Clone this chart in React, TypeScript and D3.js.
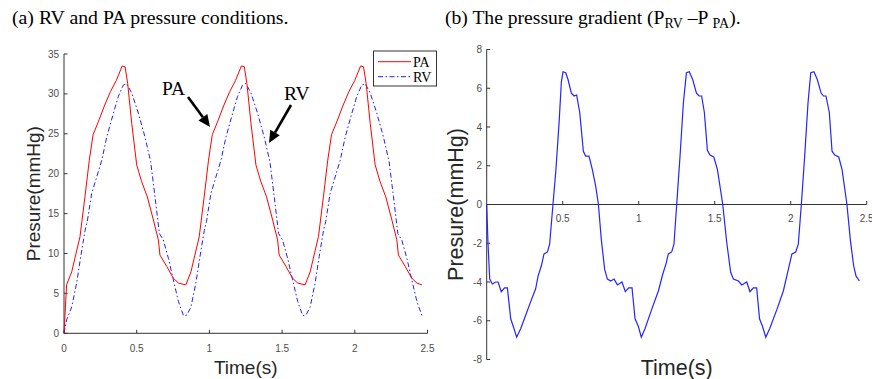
import React from "react";
import * as d3 from "d3";

// (a) pulmonary artery and right ventricle pressure, [time s, mmHg]
const paSeries: [number, number][] = [
  [0, 0], [0.018, 6.1], [0.053, 7.7], [0.08, 9.8], [0.11, 12.1], [0.144, 17.1], [0.174, 21.7],
  [0.2, 24.9], [0.236, 26.5], [0.28, 28.6], [0.32, 30.3], [0.36, 31.7], [0.4, 33.5], [0.42, 33.4],
  [0.438, 31.3], [0.466, 26.3], [0.5, 21.1], [0.534, 19.0], [0.573, 17.1], [0.615, 14.2],
  [0.649, 11.7], [0.66, 9.8], [0.706, 8.4], [0.752, 6.9], [0.787, 6.3], [0.838, 6.06],
  [0.873, 7.7], [0.9, 9.8], [0.93, 12.1], [0.964, 17.1], [0.994, 21.7], [1.02, 24.9],
  [1.056, 26.5], [1.1, 28.6], [1.14, 30.3], [1.18, 31.7], [1.22, 33.5], [1.24, 33.4],
  [1.258, 31.3], [1.286, 26.3], [1.32, 21.1], [1.354, 19.0], [1.393, 17.1], [1.435, 14.2],
  [1.469, 11.7], [1.48, 9.8], [1.526, 8.4], [1.572, 6.9], [1.607, 6.3], [1.658, 6.06],
  [1.693, 7.7], [1.72, 9.8], [1.75, 12.1], [1.784, 17.1], [1.814, 21.7], [1.84, 24.9],
  [1.876, 26.5], [1.92, 28.6], [1.96, 30.3], [2.0, 31.7], [2.04, 33.5], [2.06, 33.4],
  [2.078, 31.3], [2.106, 26.3], [2.14, 21.1], [2.174, 19.0], [2.213, 17.1], [2.255, 14.2],
  [2.289, 11.7], [2.3, 9.8], [2.346, 8.4], [2.392, 6.9], [2.427, 6.3], [2.462, 6.06],
];

const rvSeries: [number, number][] = [
  [0, 0], [0.018, 1.7], [0.053, 3.3], [0.087, 6.3], [0.115, 9.6], [0.145, 12.9], [0.16, 14.0],
  [0.19, 17.5], [0.225, 19.6], [0.26, 21.7], [0.294, 24.6], [0.34, 27.6], [0.374, 29.7],
  [0.408, 31.1], [0.431, 31.3], [0.466, 30.1], [0.511, 27.6], [0.557, 24.6], [0.596, 21.5],
  [0.626, 17.1], [0.656, 12.5], [0.683, 11.7], [0.718, 9.4], [0.752, 6.7], [0.787, 4.0],
  [0.822, 2.2], [0.845, 2.3], [0.873, 3.3], [0.907, 6.3], [0.935, 9.6], [0.965, 12.9],
  [0.98, 14.0], [1.01, 17.5], [1.045, 19.6], [1.08, 21.7], [1.114, 24.6], [1.16, 27.6],
  [1.194, 29.7], [1.228, 31.1], [1.251, 31.3], [1.286, 30.1], [1.331, 27.6], [1.377, 24.6],
  [1.416, 21.5], [1.446, 17.1], [1.476, 12.5], [1.503, 11.7], [1.538, 9.4], [1.572, 6.7],
  [1.607, 4.0], [1.642, 2.2], [1.665, 2.3], [1.693, 3.3], [1.727, 6.3], [1.755, 9.6],
  [1.785, 12.9], [1.8, 14.0], [1.83, 17.5], [1.865, 19.6], [1.9, 21.7], [1.934, 24.6],
  [1.98, 27.6], [2.014, 29.7], [2.048, 31.1], [2.071, 31.3], [2.106, 30.1], [2.151, 27.6],
  [2.197, 24.6], [2.236, 21.5], [2.266, 17.1], [2.296, 12.5], [2.323, 11.7], [2.358, 9.4],
  [2.392, 6.7], [2.427, 4.0], [2.462, 2.2],
];

// (b) pressure gradient P_RV - P_PA, [time s, mmHg]
const gradientSeries: [number, number][] = [
  [0, 0], [0.009, -2.1], [0.02, -3.85], [0.037, -4.1], [0.059, -4.0], [0.075, -4.0],
  [0.096, -4.5], [0.118, -4.3], [0.136, -4.3], [0.158, -5.9], [0.175, -6.3], [0.197, -6.85],
  [0.224, -6.4], [0.257, -5.7], [0.29, -5.0], [0.322, -4.35], [0.338, -3.7], [0.36, -3.15],
  [0.377, -2.55], [0.4, -2.45], [0.414, -2.05], [0.428, -0.75], [0.436, 0], [0.454, 1.65],
  [0.476, 4.2], [0.491, 6.3], [0.502, 6.85], [0.52, 6.8], [0.535, 6.45], [0.557, 5.75],
  [0.575, 5.6], [0.592, 5.65], [0.612, 4.75], [0.636, 2.75], [0.651, 2.5], [0.673, 2.5],
  [0.695, 1.8], [0.717, 0.95], [0.735, 0], [0.754, -1.8], [0.776, -3.35], [0.794, -3.85],
  [0.816, -3.95], [0.838, -3.85], [0.86, -4.15], [0.89, -4.0], [0.912, -4.5], [0.934, -4.3],
  [0.956, -4.3], [0.976, -5.9], [0.998, -6.3], [1.017, -6.85], [1.042, -6.4], [1.086, -5.4],
  [1.13, -4.45], [1.158, -3.6], [1.18, -3.05], [1.195, -2.55], [1.217, -2.45], [1.232, -2.05],
  [1.25, 0], [1.272, 2.5], [1.294, 5.25], [1.314, 6.8], [1.333, 6.85], [1.355, 6.45],
  [1.38, 5.75], [1.397, 5.6], [1.414, 5.6], [1.432, 4.75], [1.452, 2.8], [1.469, 2.55],
  [1.494, 2.45], [1.518, 1.8], [1.553, 0], [1.579, -1.95], [1.605, -3.5], [1.623, -3.85],
  [1.656, -3.95], [1.678, -4.15], [1.711, -4.0], [1.732, -4.5], [1.754, -4.3], [1.776, -4.3],
  [1.795, -5.9], [1.815, -6.3], [1.836, -6.85], [1.862, -6.4], [1.91, -5.4], [1.952, -4.45],
  [1.98, -3.5], [2.008, -2.55], [2.033, -2.45], [2.05, -2.05], [2.07, 0], [2.092, 2.5],
  [2.114, 5.25], [2.132, 6.8], [2.153, 6.85], [2.175, 6.45], [2.2, 5.75], [2.215, 5.6],
  [2.232, 5.6], [2.254, 4.75], [2.272, 2.75], [2.29, 2.55], [2.316, 2.45], [2.338, 1.8],
  [2.37, 0], [2.392, -1.8], [2.414, -3.15], [2.43, -3.7], [2.452, -3.95],
];

const timeTicks = [0, 0.5, 1, 1.5, 2, 2.5];
const pressureTicks = [0, 5, 10, 15, 20, 25, 30, 35];
const gradientTicks = [-8, -6, -4, -2, 0, 2, 4, 6, 8];

const SANS = "'Liberation Sans', Arial, sans-serif";
const SERIF = "'Liberation Serif', 'Times New Roman', serif";
const AXIS = "#333333";
const TICK_TEXT = "#4d4d4d";
const TICK_LEN = 3.5;

const Arrow = ({ x1, y1, x2, y2 }: { x1: number; y1: number; x2: number; y2: number }) => {
  const ang = Math.atan2(y2 - y1, x2 - x1);
  const hl = 12;
  const hw = 5.5;
  const bx = x2 - hl * Math.cos(ang);
  const by = y2 - hl * Math.sin(ang);
  const px = -Math.sin(ang) * hw;
  const py = Math.cos(ang) * hw;
  return (
    <g>
      <line x1={x1} y1={y1} x2={bx} y2={by} stroke="#000" strokeWidth={2.6} />
      <path d={`M${x2},${y2}L${bx + px},${by + py}L${bx - px},${by - py}Z`} fill="#000" />
    </g>
  );
};

const App: React.FC = () => {
  // left panel scales
  const xA = d3.scaleLinear().domain([0, 2.5]).range([64, 427.5]);
  const yA = d3.scaleLinear().domain([0, 35]).range([333.3, 54]);
  // right panel scales
  const xB = d3.scaleLinear().domain([0, 2.5]).range([486.7, 866.7]);
  const yB = d3.scaleLinear().domain([-8, 8]).range([359.5, 49.5]);

  const lineA = d3.line<[number, number]>().x((d) => xA(d[0])).y((d) => yA(d[1]));
  const lineB = d3.line<[number, number]>().x((d) => xB(d[0])).y((d) => yB(d[1]));

  return (
    <svg
      width={872}
      height={379}
      style={{ position: "absolute", left: 0, top: 0, background: "#fff" }}
    >
      {/* titles */}
      <text x={12} y={24} fontFamily={SERIF} fontSize={19.8} fill="#000">
        (a) RV and PA pressure conditions.
      </text>
      <text x={445} y={24} fontFamily={SERIF} fontSize={19.6} fill="#000">
        (b) The pressure gradient (P
        <tspan fontSize={14} dy={4}>RV</tspan>
        <tspan dy={-4}> –P </tspan>
        <tspan fontSize={14} dy={4}>PA</tspan>
        <tspan dy={-4}>).</tspan>
      </text>

      {/* ---- panel (a) ---- */}
      <g>
        <line x1={xA(0)} x2={xA(2.5)} y1={yA(0)} y2={yA(0)} stroke={AXIS} />
        <line x1={xA(0)} x2={xA(0)} y1={yA(0)} y2={yA(35)} stroke={AXIS} />
        {timeTicks.map((t) => (
          <g key={`ax${t}`}>
            <line x1={xA(t)} x2={xA(t)} y1={yA(0)} y2={yA(0) - TICK_LEN} stroke={AXIS} />
            <text x={xA(t)} y={351.5} textAnchor="middle" fontFamily={SANS} fontSize={10} fill={TICK_TEXT}>
              {t}
            </text>
          </g>
        ))}
        {pressureTicks.map((v) => (
          <g key={`ay${v}`}>
            <line x1={xA(0)} x2={xA(0) + TICK_LEN} y1={yA(v)} y2={yA(v)} stroke={AXIS} />
            <text x={59} y={yA(v) + 3.5} textAnchor="end" fontFamily={SANS} fontSize={10} fill={TICK_TEXT}>
              {v}
            </text>
          </g>
        ))}
        <path d={lineA(rvSeries) ?? ""} fill="none" stroke="#1f1fff" strokeWidth={1} strokeDasharray="5,2.5,1.5,2.5" />
        <path d={lineA(paSeries) ?? ""} fill="none" stroke="#ff0000" strokeWidth={1} />

        <text
          transform={`translate(40,${(yA(0) + yA(35)) / 2}) rotate(-90)`}
          textAnchor="middle"
          fontFamily={SANS}
          fontSize={19}
          fill="#262626"
        >
          Presure(mmHg)
        </text>
        <text x={(xA(0) + xA(2.5)) / 2} y={374} textAnchor="middle" fontFamily={SANS} fontSize={19} fill="#262626">
          Time(s)
        </text>

        {/* annotations */}
        <text x={162} y={95} fontFamily={SERIF} fontSize={19.5} fill="#000">PA</text>
        <Arrow x1={188} y1={97} x2={210} y2={127} />
        <text x={284} y={100} fontFamily={SERIF} fontSize={19.5} fill="#000">RV</text>
        <Arrow x1={291} y1={105} x2={269} y2={143} />

        {/* legend */}
        <rect x={373.5} y={51} width={63} height={35} fill="#fff" stroke={AXIS} strokeWidth={1} />
        <line x1={378} x2={411} y1={61.7} y2={61.7} stroke="#ff0000" />
        <text x={413} y={66.5} fontFamily={SERIF} fontSize={14} fill="#000">PA</text>
        <line x1={378} x2={411} y1={76.7} y2={76.7} stroke="#1f1fff" strokeDasharray="5,2.5,1.5,2.5" />
        <text x={413} y={81.5} fontFamily={SERIF} fontSize={14} fill="#000">RV</text>
      </g>

      {/* ---- panel (b) ---- */}
      <g>
        <line x1={xB(0)} x2={xB(0)} y1={yB(-8)} y2={yB(8)} stroke={AXIS} />
        <line x1={xB(0)} x2={xB(2.5)} y1={yB(0)} y2={yB(0)} stroke={AXIS} />
        {timeTicks.filter((t) => t > 0).map((t) => (
          <g key={`bx${t}`}>
            <line x1={xB(t)} x2={xB(t)} y1={yB(0)} y2={yB(0) - TICK_LEN} stroke={AXIS} />
            <text x={xB(t)} y={221.7} textAnchor="middle" fontFamily={SANS} fontSize={10} fill={TICK_TEXT}>
              {t}
            </text>
          </g>
        ))}
        {gradientTicks.map((v) => (
          <g key={`by${v}`}>
            <line x1={xB(0)} x2={xB(0) + TICK_LEN} y1={yB(v)} y2={yB(v)} stroke={AXIS} />
            <text x={482} y={yB(v) + 3.5} textAnchor="end" fontFamily={SANS} fontSize={10} fill={TICK_TEXT}>
              {v}
            </text>
          </g>
        ))}
        <path d={lineB(gradientSeries) ?? ""} fill="none" stroke="#2424ff" strokeWidth={1.2} />

        <text
          transform={`translate(463,${(yB(-8) + yB(8)) / 2}) rotate(-90)`}
          textAnchor="middle"
          fontFamily={SANS}
          fontSize={21.5}
          fill="#262626"
        >
          Presure(mmHg)
        </text>
        <text x={(xB(0) + xB(2.5)) / 2} y={375} textAnchor="middle" fontFamily={SANS} fontSize={21.5} fill="#262626">
          Time(s)
        </text>
      </g>
    </svg>
  );
};

export default App;
